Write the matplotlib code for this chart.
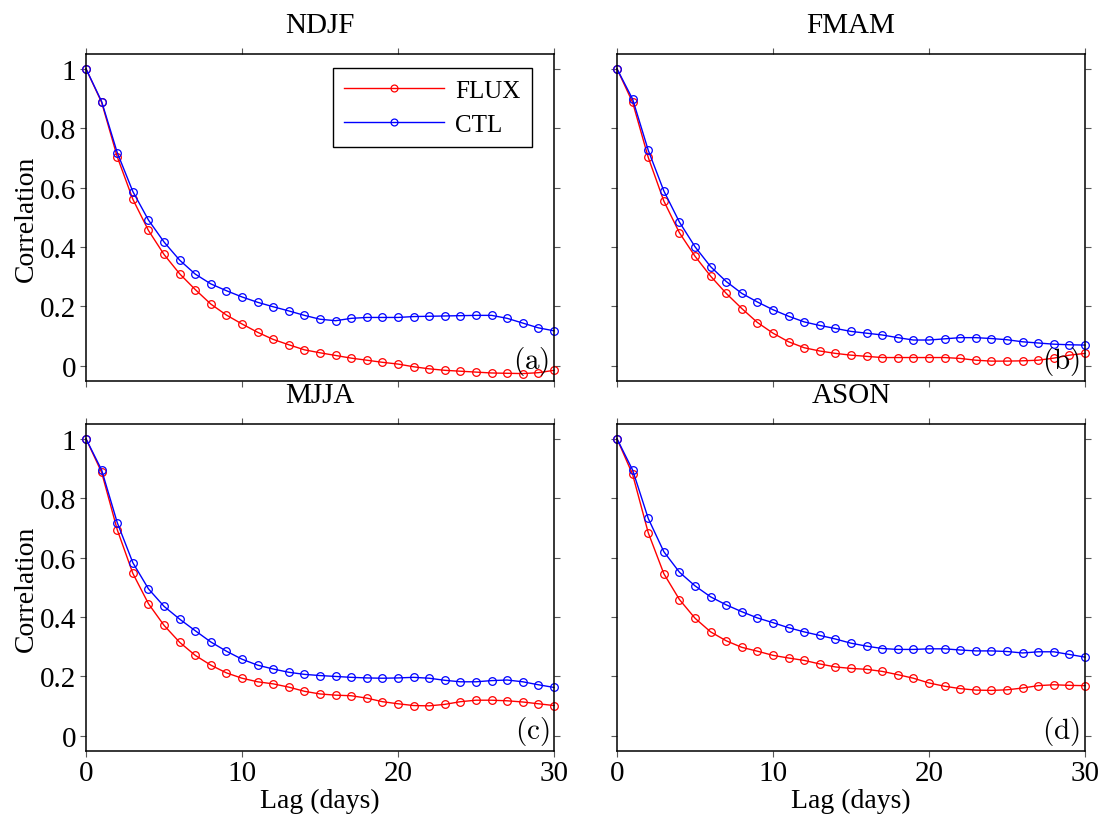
import numpy as np
import matplotlib
matplotlib.use("Agg")
import matplotlib.pyplot as plt

plt.rcParams['font.family'] = ['Liberation Serif', 'DejaVu Serif']
plt.rcParams['mathtext.fontset'] = 'cm'

# lag axis (days)
lags = np.arange(31)

# autocorrelation curves
flux_ndjf = [1.0, 0.887, 0.704, 0.561, 0.456, 0.375, 0.310, 0.257, 0.208, 0.171,
             0.141, 0.113, 0.089, 0.071, 0.054, 0.044, 0.035, 0.026, 0.019, 0.012,
             0.006, -0.003, -0.010, -0.015, -0.018, -0.021, -0.024, -0.025, -0.026, -0.023,
             -0.015]
ctl_ndjf = [1.0, 0.890, 0.718, 0.587, 0.491, 0.417, 0.356, 0.309, 0.276, 0.253,
            0.232, 0.214, 0.199, 0.185, 0.170, 0.157, 0.152, 0.160, 0.163, 0.163,
            0.163, 0.166, 0.167, 0.168, 0.169, 0.170, 0.170, 0.160, 0.144, 0.128,
            0.118]

flux_fmam = [1.0, 0.887, 0.702, 0.555, 0.448, 0.369, 0.302, 0.244, 0.193, 0.146,
             0.110, 0.081, 0.061, 0.050, 0.042, 0.036, 0.032, 0.028, 0.028, 0.028,
             0.028, 0.028, 0.025, 0.019, 0.016, 0.016, 0.017, 0.019, 0.026, 0.036,
             0.042]
ctl_fmam = [1.0, 0.898, 0.726, 0.589, 0.484, 0.401, 0.334, 0.284, 0.244, 0.215,
            0.189, 0.167, 0.148, 0.136, 0.126, 0.116, 0.110, 0.104, 0.095, 0.087,
            0.087, 0.091, 0.095, 0.095, 0.092, 0.088, 0.081, 0.077, 0.073, 0.071,
            0.070]

flux_mjja = [1.0, 0.887, 0.694, 0.547, 0.445, 0.372, 0.315, 0.271, 0.238, 0.212,
             0.194, 0.182, 0.175, 0.164, 0.150, 0.141, 0.137, 0.135, 0.127, 0.115,
             0.108, 0.102, 0.101, 0.106, 0.115, 0.120, 0.120, 0.118, 0.114, 0.108,
             0.102]
ctl_mjja = [1.0, 0.895, 0.718, 0.583, 0.495, 0.436, 0.393, 0.354, 0.316, 0.285,
            0.258, 0.238, 0.225, 0.214, 0.207, 0.203, 0.200, 0.197, 0.195, 0.194,
            0.195, 0.197, 0.194, 0.187, 0.182, 0.182, 0.186, 0.188, 0.182, 0.172,
            0.163]

flux_ason = [1.0, 0.880, 0.684, 0.546, 0.459, 0.396, 0.350, 0.320, 0.298, 0.285,
             0.271, 0.262, 0.254, 0.242, 0.232, 0.227, 0.224, 0.217, 0.206, 0.194,
             0.178, 0.167, 0.159, 0.154, 0.153, 0.155, 0.161, 0.169, 0.172, 0.170,
             0.169]
ctl_ason = [1.0, 0.895, 0.732, 0.620, 0.551, 0.505, 0.468, 0.441, 0.418, 0.397,
            0.381, 0.364, 0.350, 0.338, 0.326, 0.312, 0.302, 0.294, 0.291, 0.291,
            0.293, 0.293, 0.289, 0.286, 0.286, 0.284, 0.279, 0.283, 0.283, 0.274,
            0.265]

seasons = ['NDJF', 'FMAM', 'MJJA', 'ASON']
panel_tags = ['(a)', '(b)', '(c)', '(d)']
flux_all = [flux_ndjf, flux_fmam, flux_mjja, flux_ason]
ctl_all = [ctl_ndjf, ctl_fmam, ctl_mjja, ctl_ason]

xticks = [0, 10, 20, 30]
yticks = [0, 0.2, 0.4, 0.6, 0.8, 1.0]
ytick_labels = ['0', '0.2', '0.4', '0.6', '0.8', '1']

fig = plt.figure(figsize=(11.06, 8.2), dpi=100)

# axes boxes in figure fractions: [left, bottom, width, height]
boxes = [[0.0778, 0.5345, 0.4231, 0.3984],
         [0.5579, 0.5345, 0.4231, 0.3984],
         [0.0778, 0.0833, 0.4231, 0.3984],
         [0.5579, 0.0833, 0.4231, 0.3984]]

for k in range(4):
    ax = fig.add_axes(boxes[k])
    ax.plot(lags, flux_all[k], color='#ff0000', lw=1.0, marker='o', ms=5.5,
            mfc='none', mew=0.9, label='FLUX', clip_on=False)
    ax.plot(lags, ctl_all[k], color='#0000ff', lw=1.0, marker='o', ms=5.5,
            mfc='none', mew=0.9, label='CTL', clip_on=False)

    ax.set_xlim(0, 30)
    ax.set_ylim(-0.05, 1.05)
    ax.set_xticks(xticks)
    ax.set_yticks(yticks)
    ax.set_yticklabels(ytick_labels)
    ax.tick_params(direction='out', length=4, width=0.8, color='0.35',
                   top=True, right=True, labelsize=21, pad=3)
    for sp in ax.spines.values():
        sp.set_linewidth(1.1)

    row, col = divmod(k, 2)
    if row == 0:
        ax.tick_params(labelbottom=False)
    else:
        ax.set_xlabel('Lag (days)', fontsize=20)
        ax.xaxis.label.set_va('baseline')
        ax.xaxis.set_label_coords(0.5, -0.172)
    if col == 1:
        ax.tick_params(labelleft=False)
    else:
        ax.set_ylabel('Correlation', fontsize=20)
        ax.yaxis.set_label_coords(-0.1, 0.5)

    ax.text(0.5, 1.066, seasons[k], transform=ax.transAxes, ha='center',
            va='baseline', fontsize=21)
    ax.text(0.99, 0.038, r'$\mathrm{' + panel_tags[k] + '}$', transform=ax.transAxes,
            ha='right', va='baseline', fontsize=21)

    if k == 0:
        leg = ax.legend(loc='upper right', bbox_to_anchor=(0.952, 0.956),
                        borderaxespad=0, fontsize=18, handlelength=4.0,
                        handletextpad=0.45, borderpad=0.45, labelspacing=0.45,
                        fancybox=False, edgecolor='black', framealpha=1,
                        markerscale=0.9)
        leg.get_frame().set_linewidth(1.0)

fig.savefig('out.png', dpi=100)
